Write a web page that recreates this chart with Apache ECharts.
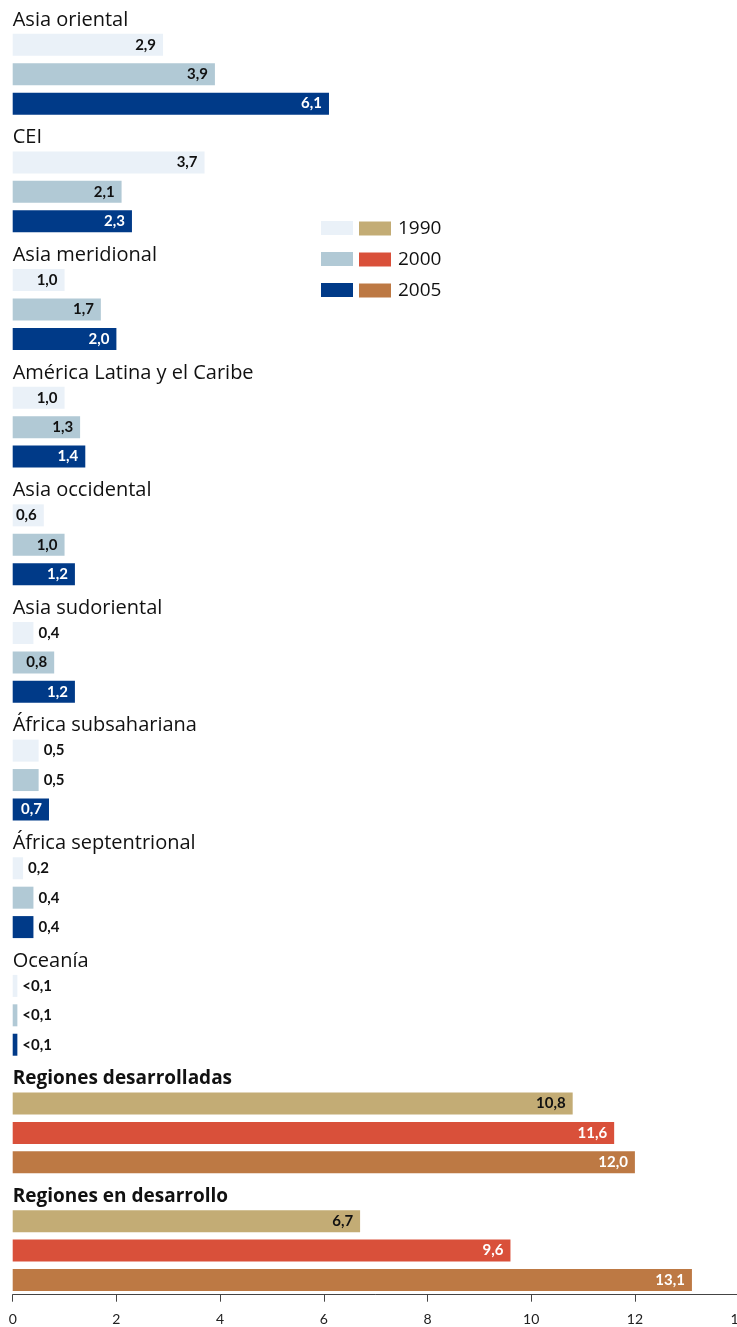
<!DOCTYPE html>
<html>
<head>
<meta charset="utf-8">
<script src="https://cdn.jsdelivr.net/npm/echarts@6/dist/echarts.min.js"></script>
<style>
  html, body { margin: 0; padding: 0; background: #fff; }
  #chart { width: 737px; height: 1327px; }
</style>
</head>
<body>
<div id="chart"></div>
<script>
// Regions, top to bottom
const regions = [
  'Asia oriental', 'CEI', 'Asia meridional', 'América Latina y el Caribe',
  'Asia occidental', 'Asia sudoriental', 'África subsahariana',
  'África septentrional', 'Oceanía', 'Regiones desarrolladas', 'Regiones en desarrollo'
];
// Aggregate groups (drawn in warm colours, bold heading)
const aggregate = [false, false, false, false, false, false, false, false, false, true, true];
const years = ['1990', '2000', '2005'];
// Values per year (Oceanía is below 0,1)
const v1990 = [2.9, 3.7, 1.0, 1.0, 0.6, 0.4, 0.5, 0.2, 0.09, 10.8, 6.7];
const v2000 = [3.9, 2.1, 1.7, 1.3, 1.0, 0.8, 0.5, 0.4, 0.09, 11.6, 9.6];
const v2005 = [6.1, 2.3, 2.0, 1.4, 1.2, 1.2, 0.7, 0.4, 0.09, 12.0, 13.1];
const xTicks = [0, 2, 4, 6, 8, 10, 12, 14];

const FONT = '"Open Sans", Lato, sans-serif';
const VFONT = 'Lato, "Open Sans", sans-serif';
const blueColors = ['#EAF1F8', '#B1C9D5', '#003A88'];
const blueLabel = ['#111', '#111', '#fff'];
const warmColors = ['#C3AC75', '#D9503A', '#BD7944'];
const warmLabel = ['#111', '#fff', '#fff'];
const values = [v1990, v2000, v2005];

// Each region takes four rows: heading row + one row per year
const rows = [];
regions.forEach((r, i) => {
  rows.push('h' + i);
  years.forEach(y => rows.push(r + '|' + y));
});

function fmt(v) {
  if (v < 0.1) return '<0,1';
  return v.toFixed(1).replace('.', ',');
}

function makeSeries(yearIdx, warm) {
  const data = rows.map(() => '-');
  regions.forEach((r, i) => {
    if (aggregate[i] !== warm) return;
    const v = values[yearIdx][i];
    const small = v < 0.55;
    data[i * 4 + 1 + yearIdx] = {
      value: v,
      label: small
        ? { position: 'right', distance: 5, color: '#111' }
        : { position: 'insideRight', distance: 7,
            color: warm ? warmLabel[yearIdx] : blueLabel[yearIdx] }
    };
  });
  return {
    name: (warm ? '' : 'b') + years[yearIdx],
    type: 'bar',
    data: data,
    barWidth: 22,
    barGap: '-100%',
    itemStyle: { color: warm ? warmColors[yearIdx] : blueColors[yearIdx] },
    label: {
      show: true,
      fontFamily: VFONT,
      fontWeight: 'bold',
      fontSize: 15,
      formatter: p => fmt(p.value)
    },
    emphasis: { disabled: true },
    animation: false
  };
}

const series = [];
[false, true].forEach(warm => {
  [0, 1, 2].forEach(k => series.push(makeSeries(k, warm)));
});

const chart = echarts.init(document.getElementById('chart'), null, { renderer: 'canvas' });
chart.setOption({
  backgroundColor: '#fff',
  animation: false,
  grid: {
    left: 12.7, width: 725.9, top: 0.7, height: 1294,
    containLabel: false, outerBoundsMode: 'none'
  },
  legend: [
    {
      data: ['b1990', 'b2000', 'b2005'],
      orient: 'vertical', left: 321, top: 221, padding: 0,
      itemWidth: 32, itemHeight: 14, itemGap: 17,
      icon: 'rect', selectedMode: false,
      formatter: () => '',
      textStyle: { fontSize: 1, lineHeight: 14 }
    },
    {
      data: years,
      orient: 'vertical', left: 359, top: 219, padding: 0,
      itemWidth: 32, itemHeight: 14, itemGap: 12,
      icon: 'rect', selectedMode: false,
      textStyle: { fontFamily: FONT, fontSize: 19, color: '#111', padding: [0, 0, 0, 2] }
    }
  ],
  xAxis: {
    type: 'value', min: xTicks[0], max: xTicks[xTicks.length - 1], interval: 2,
    axisLine: { show: true, lineStyle: { color: '#444', width: 1 } },
    axisTick: { show: true, length: 7, lineStyle: { color: '#444' } },
    splitLine: { show: false },
    axisLabel: {
      fontFamily: VFONT, fontSize: 14, color: '#222', margin: 18,
      hideOverlap: false, showMaxLabel: true,
      formatter: v => String(v)
    }
  },
  yAxis: {
    type: 'category', data: rows, inverse: true,
    axisLine: { show: false }, axisTick: { show: false },
    axisLabel: {
      inside: true, margin: 0, interval: 0,
      formatter: v => {
        if (v[0] !== 'h' || v.indexOf('|') >= 0) return '';
        const i = +v.slice(1);
        return aggregate[i] ? '{b|' + regions[i] + '}' : '{n|' + regions[i] + '}';
      },
      rich: {
        n: { fontFamily: FONT, fontSize: 20, color: '#111', padding: [9, 0, 0, 0] },
        b: { fontFamily: FONT, fontSize: 19, fontWeight: 'bold', color: '#111', padding: [9, 0, 0, 0] }
      }
    }
  },
  series: series
});
</script>
</body>
</html>
